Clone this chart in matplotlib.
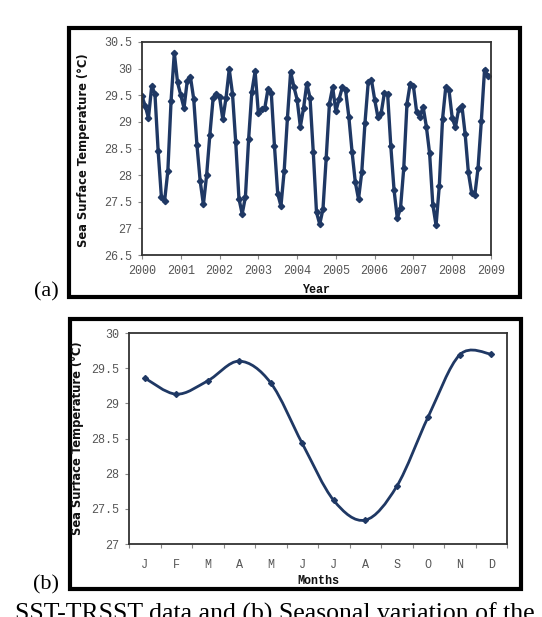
import numpy as np
import matplotlib as mpl
mpl.use('Agg')
import matplotlib.pyplot as plt
from matplotlib.patches import Rectangle
from matplotlib.path import Path
from matplotlib.patches import PathPatch

# monthly SST, Jan 2000 .. Dec 2008
sst_monthly = [
    29.48, 29.30, 29.07, 29.67, 29.53, 28.45, 27.59, 27.52, 28.08, 29.40, 30.30, 29.74,
    29.50, 29.26, 29.77, 29.84, 29.43, 28.57, 27.89, 27.45, 28.00, 28.76, 29.44, 29.53,
    29.47, 29.05, 29.45, 29.99, 29.53, 28.62, 27.56, 27.27, 27.59, 28.68, 29.57, 29.95,
    29.17, 29.24, 29.26, 29.62, 29.55, 28.54, 27.65, 27.42, 28.08, 29.07, 29.94, 29.66,
    29.42, 28.91, 29.26, 29.72, 29.45, 28.43, 27.30, 27.08, 27.36, 28.32, 29.34, 29.65,
    29.20, 29.43, 29.65, 29.59, 29.10, 28.44, 27.87, 27.55, 28.05, 28.98, 29.74, 29.79,
    29.42, 29.09, 29.16, 29.54, 29.53, 28.54, 27.72, 27.19, 27.38, 28.13, 29.34, 29.72,
    29.67, 29.18, 29.10, 29.28, 28.91, 28.41, 27.44, 27.06, 27.80, 29.05, 29.65, 29.60,
    29.07, 28.90, 29.24, 29.30, 28.77, 28.05, 27.67, 27.63, 28.14, 29.01, 29.98, 29.87,
]
start_year = 2000
year_ticks = list(range(2000, 2010))

months = ['J', 'F', 'M', 'A', 'M', 'J', 'J', 'A', 'S', 'O', 'N', 'D']
sst_clim = [29.36, 29.13, 29.32, 29.60, 29.29, 28.43, 27.62, 27.34, 27.82, 28.81, 29.69, 29.70]

navy = '#1f3864'
W, H = 542, 617


def px(x, y):
    return x / W, 1 - y / H


def style_axes(ax):
    for s in ax.spines.values():
        s.set_color('#333333')
        s.set_linewidth(1.3)
    ax.tick_params(direction='out', length=3, width=0.8, color='#888888',
                   labelcolor='#555555', labelsize=8.5, pad=4)
    for lab in ax.get_xticklabels() + ax.get_yticklabels():
        lab.set_family('Liberation Mono')


fig = plt.figure(figsize=(W / 100, H / 100), dpi=100)

# ---- (a) monthly series
ax1 = fig.add_axes([142 / W, 1 - 255 / H, 349 / W, 213 / H])
t = start_year + np.arange(len(sst_monthly)) / 12.0
ax1.plot(t, sst_monthly, color=navy, lw=2.4, marker='D', ms=3.2,
         mec=navy, mfc=navy)
ax1.set_xlim(2000, 2009)
ax1.set_ylim(26.5, 30.5)
ax1.set_xticks(year_ticks)
ax1.set_yticks(np.arange(26.5, 30.51, 0.5))
ax1.yaxis.set_major_formatter(mpl.ticker.FormatStrFormatter('%g'))
style_axes(ax1)

# ---- (b) climatology, smoothed like a spreadsheet curve
ax2 = fig.add_axes([129 / W, 1 - 544 / H, 378 / W, 211 / H])
xm = np.arange(1, 13)
P = np.column_stack([xm, sst_clim]).astype(float)
Pe = np.vstack([P[0], P, P[-1]])
verts = [tuple(P[0])]
codes = [Path.MOVETO]
for i in range(len(P) - 1):
    p0, p1, p2, p3 = Pe[i], Pe[i + 1], Pe[i + 2], Pe[i + 3]
    c1 = p1 + (p2 - p0) / 6.0
    c2 = p2 - (p3 - p1) / 6.0
    verts += [tuple(c1), tuple(c2), tuple(p2)]
    codes += [Path.CURVE4] * 3
ax2.add_patch(PathPatch(Path(verts, codes), fill=False, ec=navy, lw=2.0))
ax2.plot(xm, sst_clim, ls='none', marker='D', ms=3, color=navy)
ax2.set_xlim(0.5, 12.5)
ax2.set_ylim(27, 30)
ax2.set_xticks(np.arange(0.5, 12.6, 1))
ax2.set_xticklabels([])
ax2.set_xticks(xm, minor=True)
ax2.set_xticklabels(months, minor=True)
ax2.tick_params(axis='x', which='minor', length=0, pad=11)
ax2.set_yticks(np.arange(27, 30.01, 0.5))
ax2.yaxis.set_major_formatter(mpl.ticker.FormatStrFormatter('%g'))
style_axes(ax2)
for lab in ax2.get_xticklabels(minor=True):
    lab.set_family('Liberation Mono')
    lab.set_color('#555555')
    lab.set_fontsize(8.5)

# axis titles
lab_kw = dict(family='Liberation Mono', weight='bold', fontsize=8.5, color='#111111')
fig.text(*px(316.5, 290), 'Year', ha='center', va='center', **lab_kw)
fig.text(*px(318, 581), 'Months', ha='center', va='center', **lab_kw)
yl_kw = dict(family='DejaVu Sans', weight='bold', fontsize=8.3, color='#111111',
             rotation=90)
fig.text(*px(84, 150), 'Sea Surface Temperature (\u00b0C)', ha='center', va='center', **yl_kw)
fig.text(*px(77, 438), 'Sea Surface Temperature (\u00b0C)', ha='center', va='center', **yl_kw)

# outer frames
fig.patches.append(Rectangle(px(69, 297), 451 / W, 269 / H, transform=fig.transFigure,
                             fill=False, ec='black', lw=3))
fig.patches.append(Rectangle(px(70, 589), 451 / W, 270 / H, transform=fig.transFigure,
                             fill=False, ec='black', lw=3))

# panel letters and caption fragment (cut by the page edge, as in the source)
fig.text(*px(46, 292), '(a)', ha='center', va='center', family='Liberation Serif', fontsize=16)
fig.text(*px(46, 585), '(b)', ha='center', va='center', family='Liberation Serif', fontsize=16)
fig.text(*px(15, 603), 'SST-TRSST data and (b) Seasonal variation of the',
         ha='left', va='top', family='Liberation Serif', fontsize=18.5)

fig.savefig('out.png', dpi=100)
